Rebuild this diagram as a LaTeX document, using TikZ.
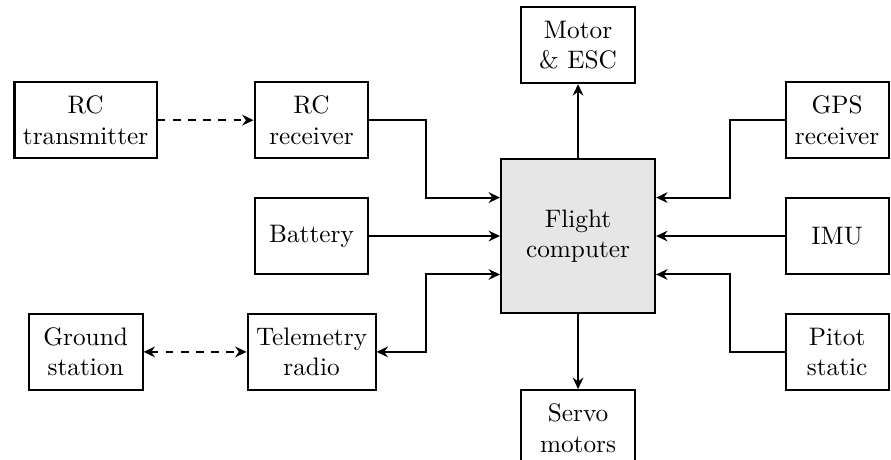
\documentclass[tikz,border=0pt]{standalone}
\usepackage{xcolor}
\definecolor{cLine}{HTML}{000000}
\definecolor{cFill}{HTML}{E6E6E6}
\usepackage{tikz}
\usetikzlibrary{positioning,arrows.meta,calc}
\tikzset{
  node-box/.style={draw=cLine,thick,minimum height=30pt,minimum width=45pt,
    align=center},
  node-side/.style={minimum width=40.7pt},
  node-core/.style={draw=cLine,thick,fill=cFill,minimum size=60.9pt,
    align=center},
  arrow/.style={-{Stealth[length=4.5pt,width=4.2pt]},thick,draw=cLine},
  arrow-both/.style={{Stealth[length=4.5pt,width=4.2pt]}-{Stealth[length=4.5pt,width=4.2pt]},
    thick,draw=cLine},
  arrow-radio/.style={arrow,dashed},
  arrow-radio-both/.style={arrow-both,dashed},
}

\begin{document}
\begin{tikzpicture}[node distance=15pt and 51.6pt]
  \useasboundingbox (-228.5pt,-88.5pt) rectangle (123.7pt,93.3pt);
  \node[node-core] (fc) at (0,0) {Flight\\computer};
  \node[node-box,above=29.2pt of fc] (motor) {Motor\\\& ESC};
  \node[node-box,below=29.65pt of fc] (servo) {Servo\\motors};
  \node[node-box,left=of fc] (batt) {Battery};
  \node[node-box,above=of batt] (rcrx) {RC\\receiver};
  \node[node-box,below=of batt] (tele) {Telemetry\\radio};
  \node[node-box] (rctx) at ([xshift=-89.3pt]rcrx) {RC\\transmitter};
  \node[node-box] (gnd) at ([xshift=-89.3pt]tele) {Ground\\station};
  \node[node-box,node-side,right=50.8pt of fc] (imu) {IMU};
  \node[node-box,node-side,above=of imu] (gps) {GPS\\receiver};
  \node[node-box,node-side,below=of imu] (pitot) {Pitot\\static};
  % radio links
  \draw[arrow-radio] (rctx) -- (rcrx);
  \draw[arrow-radio-both] (gnd) -- (tele);
  % inputs, left side
  \draw[arrow] (rcrx.east) -| ([xshift=-29.2pt,yshift=15.2pt]fc.west)
    -- ([yshift=15.2pt]fc.west);
  \draw[arrow] (batt) -- (fc);
  \draw[arrow-both] (tele.east) -| ([xshift=-29.2pt,yshift=-15.2pt]fc.west)
    -- ([yshift=-15.2pt]fc.west);
  % inputs, right side
  \draw[arrow] (gps.west) -| ([xshift=29.2pt,yshift=15.2pt]fc.east)
    -- ([yshift=15.2pt]fc.east);
  \draw[arrow] (imu) -- (fc);
  \draw[arrow] (pitot.west) -| ([xshift=29.2pt,yshift=-15.2pt]fc.east)
    -- ([yshift=-15.2pt]fc.east);
  % outputs
  \draw[arrow] (fc) -- (motor);
  \draw[arrow] (fc) -- (servo);
\end{tikzpicture}
\end{document}
